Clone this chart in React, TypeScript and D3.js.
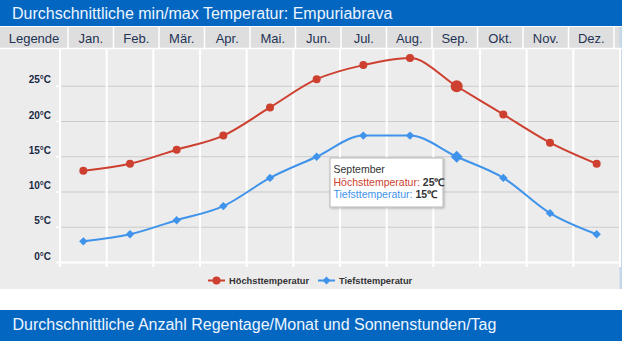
import React from "react";
import * as d3 from "d3";

const months = ["Jan.", "Feb.", "Mär.", "Apr.", "Mai.", "Jun.", "Jul.", "Aug.", "Sep.", "Okt.", "Nov.", "Dez."];
const maxTemp = [13, 14, 16, 18, 22, 26, 28, 29, 25, 21, 17, 14];
const minTemp = [3, 4, 6, 8, 12, 15, 18, 18, 15, 12, 7, 4];
const yTicks = [0, 5, 10, 15, 20, 25];
const titleTop = "Durchschnittliche min/max Temperatur: Empuriabrava";
const titleBottom = "Durchschnittliche Anzahl Regentage/Monat und Sonnenstunden/Tag";
const legendLabel = "Legende";
const seriesNames = ["Höchsttemperatur", "Tiefsttemperatur"];
const hoverIndex = 8;
const hoverName = "September";

const W = 622;
const H = 341;
const BLUE = "#0367c1";
const RED = "#cd3f2f";
const LBLUE = "#3f93ea";
const SANS = "'Liberation Sans', Arial, sans-serif";

export default function App() {
  const plotL = 60, plotR = 620, plotT = 49, plotB = 262.5;
  const x = d3.scaleBand<number>().domain(d3.range(12)).range([plotL, plotR]);
  const xc = (i: number) => (x(i) as number) + x.bandwidth() / 2;
  const y = d3.scaleLinear().domain([0, 30]).range([plotB, 51]);
  const hdr = d3.scaleBand<number>().domain(d3.range(12)).range([68, 614]);

  const line = d3.line<number>().x((_, i) => xc(i)).y((d) => y(d)).curve(d3.curveMonotoneX);
  const diamond = (cx: number, cy: number, r: number) =>
    `M${cx},${cy - r}L${cx + r},${cy}L${cx},${cy + r}L${cx - r},${cy}Z`;

  const tipX = 330, tipY = 158, tipW = 113, tipH = 49;

  return (
    <div style={{ position: "fixed", left: 0, top: 0 }}>
      <svg width={W} height={H} style={{ display: "block" }}>
        <defs>
          <filter id="sh" x="-10%" y="-10%" width="130%" height="140%">
            <feDropShadow dx="1" dy="1" stdDeviation="1.2" floodColor="#000" floodOpacity="0.25" />
          </filter>
        </defs>
        <rect x={0} y={0} width={W} height={H} fill="#ffffff" />
        {/* top title bar */}
        <rect x={0} y={0} width={W} height={26} fill={BLUE} />
        <text x={12} y={18.5} fontFamily={SANS} fontSize={16} fill="#eef5ff">{titleTop}</text>
        {/* header row */}
        <rect x={0} y={27} width={W} height={21} fill="#dedede" />
        <text x={34} y={42.5} textAnchor="middle" fontFamily={SANS} fontSize={13} fill="#1e3455">{legendLabel}</text>
        <line x1={68} x2={68} y1={27} y2={48} stroke="#ffffff" strokeWidth={1.5} />
        {months.map((m, i) => (
          <g key={m}>
            <text x={(hdr(i) as number) + hdr.bandwidth() / 2} y={42.5} textAnchor="middle" fontFamily={SANS} fontSize={13} fill="#1e3455">{m}</text>
            <line x1={(hdr(i) as number) + hdr.bandwidth()} x2={(hdr(i) as number) + hdr.bandwidth()} y1={27} y2={48} stroke="#ffffff" strokeWidth={1.5} />
          </g>
        ))}
        {/* chart background */}
        <rect x={0} y={49} width={W} height={240} fill="#ececec" />
        <rect x={619.5} y={27} width={2.5} height={262} fill="#c5d6e8" />
        {/* horizontal grid */}
        {yTicks.map((t) => (
          <g key={t}>
            {t > 0 && <line x1={plotL} x2={plotR} y1={y(t)} y2={y(t)} stroke="#cbcbcb" strokeWidth={1} />}
            <line x1={56} x2={plotL} y1={y(t)} y2={y(t)} stroke="#ffffff" strokeWidth={1.5} />
            <text x={51} y={y(t) - 3} textAnchor="end" fontFamily={SANS} fontSize={10} fontWeight="bold" fill="#1b2a44">{`${t}°C`}</text>
          </g>
        ))}
        {/* vertical grid */}
        {d3.range(13).map((k) => {
          const xx = plotL + k * x.bandwidth();
          return <line key={k} x1={xx} x2={xx} y1={plotT} y2={plotB + 4.5} stroke="#ffffff" strokeWidth={2} />;
        })}
        <line x1={plotL} x2={plotR} y1={plotB} y2={plotB} stroke="#ffffff" strokeWidth={2} />
        <line x1={0} x2={W} y1={48.5} y2={48.5} stroke="#ffffff" strokeWidth={1.5} />
        {/* series */}
        <path d={line(maxTemp) || ""} fill="none" stroke={RED} strokeWidth={2} />
        <path d={line(minTemp) || ""} fill="none" stroke={LBLUE} strokeWidth={2} />
        {maxTemp.map((v, i) => (
          <circle key={i} cx={xc(i)} cy={y(v)} r={i === hoverIndex ? 6 : 4} fill={RED} />
        ))}
        {minTemp.map((v, i) => (
          <path key={i} d={diamond(xc(i), y(v), i === hoverIndex ? 6 : 4.2)} fill={LBLUE} />
        ))}
        {/* tooltip */}
        <rect x={tipX} y={tipY} width={tipW} height={tipH} fill="#ffffff" stroke="#b8b8b8" strokeWidth={1} filter="url(#sh)" />
        <text x={tipX + 3.5} y={tipY + 14.5} fontFamily={SANS} fontSize={10.5} fill="#333333">{hoverName}</text>
        <text x={tipX + 3.5} y={tipY + 27.5} fontFamily={SANS} fontSize={10.5}>
          <tspan fill={RED}>{seriesNames[0]}: </tspan>
          <tspan fill="#333333" fontWeight="bold">{`${maxTemp[hoverIndex]}℃`}</tspan>
        </text>
        <text x={tipX + 3.5} y={tipY + 39.5} fontFamily={SANS} fontSize={10.5}>
          <tspan fill={LBLUE}>{seriesNames[1]}: </tspan>
          <tspan fill="#333333" fontWeight="bold">{`${minTemp[hoverIndex]}℃`}</tspan>
        </text>
        {/* legend */}
        <g>
          <line x1={208} x2={225} y1={280.5} y2={280.5} stroke={RED} strokeWidth={2} />
          <circle cx={216.5} cy={280.5} r={4} fill={RED} />
          <text x={229} y={284} fontFamily={SANS} fontSize={9.3} fontWeight="bold" fill="#333333">{seriesNames[0]}</text>
          <line x1={318} x2={335} y1={280.5} y2={280.5} stroke={LBLUE} strokeWidth={2} />
          <path d={diamond(326.5, 280.5, 4)} fill={LBLUE} />
          <text x={339} y={284} fontFamily={SANS} fontSize={9.3} fontWeight="bold" fill="#333333">{seriesNames[1]}</text>
        </g>
        {/* bottom title bar */}
        <rect x={0} y={310} width={W} height={31} fill={BLUE} />
        <text x={12.5} y={330} fontFamily={SANS} fontSize={16} fill="#eef5ff">{titleBottom}</text>
      </svg>
    </div>
  );
}
